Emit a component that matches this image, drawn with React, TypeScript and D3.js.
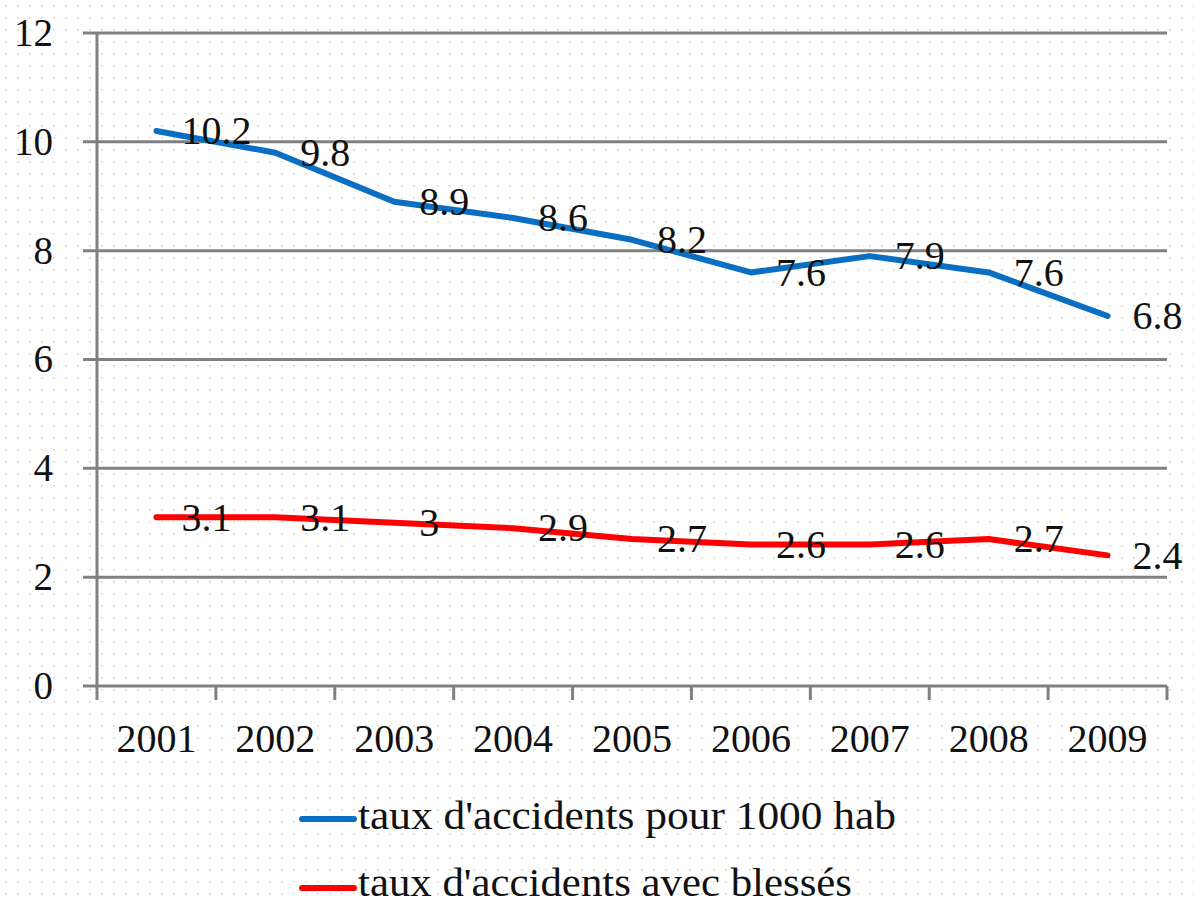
import React from "react";
import * as d3 from "d3";

const years = ["2001", "2002", "2003", "2004", "2005", "2006", "2007", "2008", "2009"];
const tauxPour1000 = [10.2, 9.8, 8.9, 8.6, 8.2, 7.6, 7.9, 7.6, 6.8];
const tauxBlesses = [3.1, 3.1, 3, 2.9, 2.7, 2.6, 2.6, 2.7, 2.4];
const yTicks = [0, 2, 4, 6, 8, 10, 12];
const seriesNames = ["taux d'accidents pour 1000 hab", "taux d'accidents avec blessés"];
const seriesColors = ["#0a6fc2", "#ff0000"];
const legendWidths = [538, 494];

const W = 1194;
const H = 903;
const left = 97;
const right = 1167;
const top = 33;
const bottom = 686;
const FONT = "'Liberation Serif', 'DejaVu Serif', serif";

export default function App() {
  const x = d3.scaleBand<string>().domain(years).range([left, right]).padding(0);
  const y = d3.scaleLinear().domain([0, 12]).range([bottom, top]);
  const cx = (d: string) => (x(d) as number) + x.bandwidth() / 2;
  const line = d3
    .line<number>()
    .x((_, i) => cx(years[i]))
    .y((v) => y(v));
  const series = [tauxPour1000, tauxBlesses];
  const boundaries = years.map((d) => x(d) as number).concat([right]);

  return (
    <div style={{ position: "absolute", left: 0, top: 0 }}>
      <svg width={W} height={H} style={{ display: "block" }}>
        <defs>
          <pattern id="dots" width="12" height="12" patternUnits="userSpaceOnUse">
            <rect x="5" y="5" width="1.6" height="1.6" fill="#d6d6c4" />
          </pattern>
        </defs>
        <rect x={0} y={0} width={W} height={H} fill="#ffffff" />
        <rect x={0} y={0} width={W} height={H} fill="url(#dots)" />

        {/* gridlines */}
        {yTicks.map((t) => (
          <line key={"g" + t} x1={83} x2={right} y1={y(t)} y2={y(t)} stroke="#808080" strokeWidth={3} />
        ))}
        {/* y axis */}
        <line x1={left} x2={left} y1={top} y2={bottom} stroke="#808080" strokeWidth={3} />
        {/* x ticks */}
        {boundaries.map((b, i) => (
          <line key={"t" + i} x1={b} x2={b} y1={bottom} y2={bottom + 14} stroke="#808080" strokeWidth={3} />
        ))}
        {/* y labels */}
        {yTicks.map((t) => (
          <text key={"yl" + t} x={53} y={y(t)} dy="0.33em" textAnchor="end" fontFamily={FONT} fontSize={39} fill="#111">
            {t}
          </text>
        ))}
        {/* x labels */}
        {years.map((d) => (
          <text key={"xl" + d} x={cx(d)} y={752} textAnchor="middle" fontFamily={FONT} fontSize={40} fill="#111">
            {d}
          </text>
        ))}

        {/* lines */}
        {series.map((s, si) => (
          <path key={"s" + si} d={line(s) || ""} fill="none" stroke={seriesColors[si]} strokeWidth={6} strokeLinecap="round" strokeLinejoin="round" />
        ))}
        {/* data labels */}
        {series.map((s, si) =>
          s.map((v, i) => (
            <text key={"dl" + si + "-" + i} x={cx(years[i]) + 25} y={y(v)} dy="0.33em" fontFamily={FONT} fontSize={40} fill="#111">
              {String(v)}
            </text>
          ))
        )}

        {/* legend */}
        {seriesNames.map((n, i) => (
          <g key={"lg" + i}>
            <line x1={302} x2={354} y1={819 + i * 69} y2={819 + i * 69} stroke={seriesColors[i]} strokeWidth={6} strokeLinecap="round" />
            <text
              x={358}
              y={829 + i * 67}
              fontFamily={FONT}
              fontSize={39}
              fill="#111"
              textLength={legendWidths[i]}
              lengthAdjust="spacingAndGlyphs"
            >
              {n}
            </text>
          </g>
        ))}
      </svg>
    </div>
  );
}
